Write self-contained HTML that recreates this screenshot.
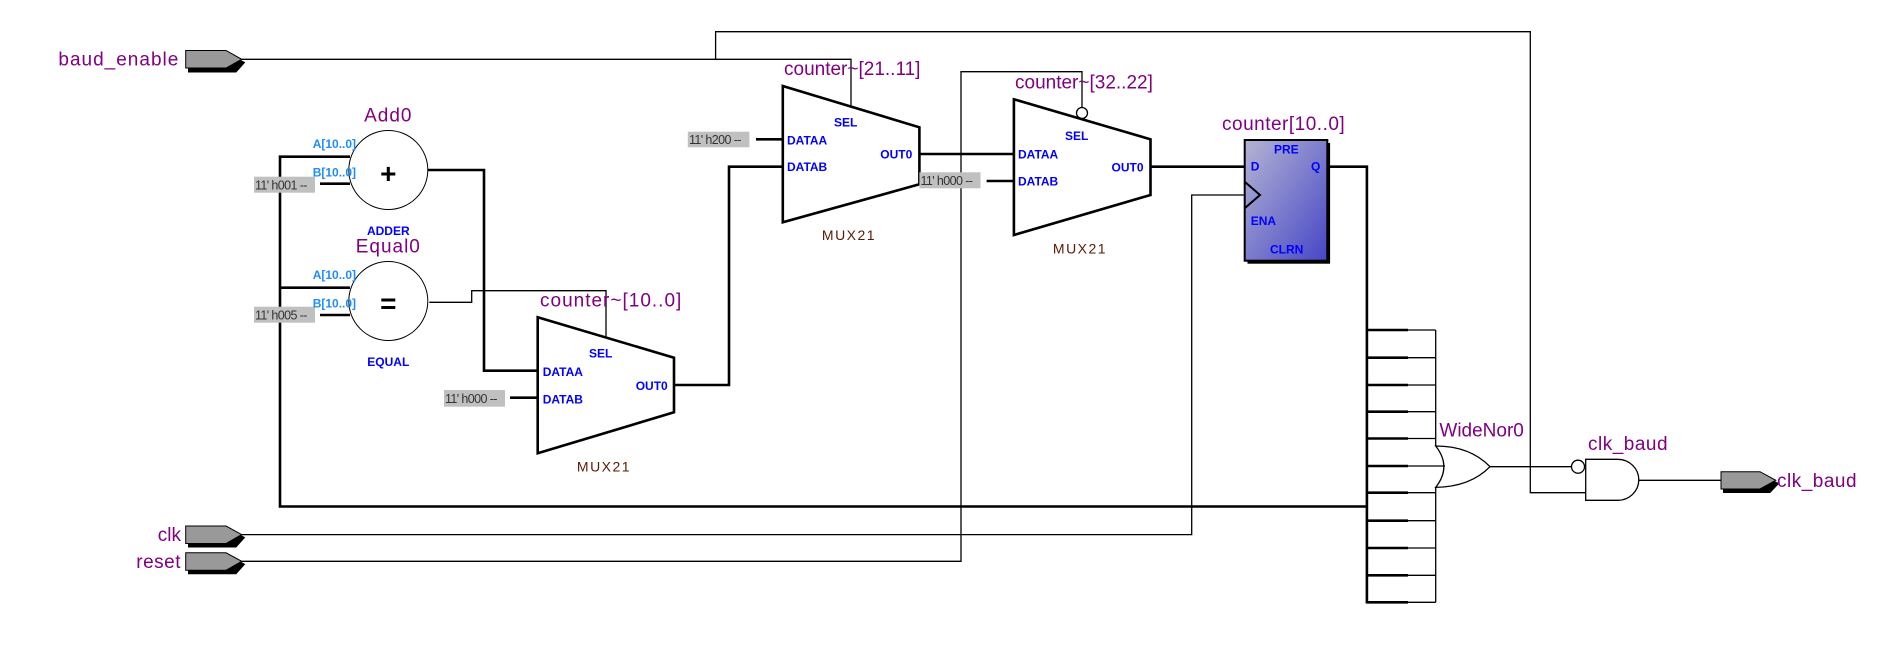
<!DOCTYPE html>
<html><head><meta charset="utf-8"><style>
html,body{margin:0;padding:0;background:#fff;}
svg{display:block;}
.p{font-family:"Liberation Sans",sans-serif;font-size:19px;fill:#800080;}
.b{font-family:"Liberation Sans",sans-serif;font-size:12px;font-weight:bold;fill:#0000ff;}
.lb{font-family:"Liberation Sans",sans-serif;font-size:12px;font-weight:bold;fill:#1e8cff;}
.c{font-family:"Liberation Sans",sans-serif;font-size:12.5px;fill:#333;letter-spacing:-0.6px;}
.m{font-family:"Liberation Sans",sans-serif;font-size:14px;fill:#5a1a00;letter-spacing:1.5px;}
</style></head><body>
<svg width="1883" height="654" viewBox="0 0 1883 654" xmlns="http://www.w3.org/2000/svg">
<defs>
<linearGradient id="g" x1="0" y1="0" x2="1" y2="1">
<stop offset="0" stop-color="#b4b4d4"/><stop offset="1" stop-color="#4646c6"/>
</linearGradient>
</defs>
<g fill="none" stroke="#000">
<g stroke-width="1.3">
<polyline points="241.7,59.3 851,59.3 851,106"/>
<polyline points="715.6,59.3 715.6,31.7 1530.3,31.7 1530.3,492.7 1585.7,492.7"/>
<polyline points="241.7,534.6 1191.7,534.6 1191.7,195 1244.6,195"/>
<polyline points="241.7,561.3 961,561.3 961,71.7 1082,71.7 1082,107"/>
<polyline points="429.3,302.3 471.7,302.3 471.7,290.7 606,290.7 606,337"/>
<polyline points="1435.7,330 1435.7,446"/>
<polyline points="1435.7,487.3 1435.7,602.3"/>
<line x1="1408" y1="330" x2="1435.7" y2="330"/>
<line x1="1408" y1="357.7" x2="1435.7" y2="357.7"/>
<line x1="1408" y1="385" x2="1435.7" y2="385"/>
<line x1="1408" y1="411.7" x2="1435.7" y2="411.7"/>
<line x1="1408" y1="438.5" x2="1435.7" y2="438.5"/>
<line x1="1408" y1="466" x2="1445" y2="466"/>
<line x1="1408" y1="492.7" x2="1435.7" y2="492.7"/>
<line x1="1408" y1="520.7" x2="1435.7" y2="520.7"/>
<line x1="1408" y1="548" x2="1435.7" y2="548"/>
<line x1="1408" y1="575.3" x2="1435.7" y2="575.3"/>
<line x1="1408" y1="602.3" x2="1435.7" y2="602.3"/>
<line x1="1490" y1="466.7" x2="1571" y2="466.7"/>
<line x1="1639" y1="480.3" x2="1721" y2="480.3"/>
<path d="M1435.7,446 Q1452,466.7 1435.7,487.3 Q1470,487 1490,466.7 Q1470,446 1435.7,446 Z"/>
<circle cx="1578" cy="466.7" r="6.5"/>
<path d="M1585.7,459.3 L1617.8,459.3 A21,20.5 0 0 1 1617.8,500.3 L1585.7,500.3 Z"/>
<circle cx="1082" cy="113" r="5.5"/>
<circle cx="388.3" cy="170" r="39.5" stroke-width="1"/>
<circle cx="388.3" cy="301" r="39.5" stroke-width="1"/>
</g>
<g stroke-width="2.6">
<polyline points="350,156.7 280,156.7 280,506.5 1366.9,506.5"/>
<line x1="280" y1="287.7" x2="350" y2="287.7"/>
<line x1="320" y1="183.7" x2="350" y2="183.7"/>
<line x1="320" y1="315" x2="350" y2="315"/>
<polyline points="428,170 484,170 484,370.7 537.7,370.7"/>
<line x1="510" y1="397.7" x2="537.7" y2="397.7"/>
<polyline points="674,385 729,385 729,166.7 782.8,166.7"/>
<line x1="756" y1="139.3" x2="782.8" y2="139.3"/>
<line x1="919.4" y1="154" x2="1014" y2="154"/>
<line x1="986.6" y1="181" x2="1014" y2="181"/>
<line x1="1150.5" y1="166.7" x2="1244.6" y2="166.7"/>
<polyline points="1327,166.7 1366.9,166.7 1366.9,603.5"/>
<line x1="1366.9" y1="330" x2="1408" y2="330"/>
<line x1="1366.9" y1="357.7" x2="1408" y2="357.7"/>
<line x1="1366.9" y1="385" x2="1408" y2="385"/>
<line x1="1366.9" y1="411.7" x2="1408" y2="411.7"/>
<line x1="1366.9" y1="438.5" x2="1408" y2="438.5"/>
<line x1="1366.9" y1="466" x2="1408" y2="466"/>
<line x1="1366.9" y1="492.7" x2="1408" y2="492.7"/>
<line x1="1366.9" y1="520.7" x2="1408" y2="520.7"/>
<line x1="1366.9" y1="548" x2="1408" y2="548"/>
<line x1="1366.9" y1="575.3" x2="1408" y2="575.3"/>
<line x1="1366.9" y1="602.3" x2="1408" y2="602.3"/>
<polygon points="537.7,317.3 674,357.7 674,412.3 537.7,453.3"/>
<polygon points="782.8,86 919.4,127.3 919.4,184.3 782.8,222.3"/>
<polygon points="1013.9,99.3 1150.5,139.3 1150.5,195 1013.9,235"/>
</g>
</g>
<rect x="1247.5" y="143" width="82.6" height="120.7" fill="#000"/>
<rect x="1244.7" y="140" width="82.6" height="120.7" fill="url(#g)" stroke="#000" stroke-width="2"/>
<polyline points="1244.7,181.7 1260,195 1244.7,208.3" fill="none" stroke="#000" stroke-width="2"/>
<g stroke="#000" stroke-width="1">
<polygon points="188.5,53.5 228,53.5 244.5,62.5 236,72 188.5,72" fill="#000"/>
<polygon points="185.7,50.5 226,50.5 241.7,59.3 226,68 185.7,68" fill="#999"/>
<polygon points="188.5,528.5 228,528.5 244.5,537.5 236,547 188.5,547" fill="#000"/>
<polygon points="185.7,526 226,526 241.7,534.6 226,543.5 185.7,543.5" fill="#999"/>
<polygon points="188.5,555.3 228,555.3 244.5,564.3 236,573.8 188.5,573.8" fill="#000"/>
<polygon points="185.7,552.8 226,552.8 241.7,561.3 226,570.3 185.7,570.3" fill="#999"/>
<polygon points="1723.5,475 1762,475 1778.5,483.5 1770,492.5 1723.5,492.5" fill="#000"/>
<polygon points="1721,471.7 1760,471.7 1775.8,480.3 1760,489 1721,489" fill="#999"/>
</g>
<g fill="#c0c0c0">
<rect x="254" y="176.7" width="61" height="16"/>
<rect x="254" y="306.7" width="61" height="16"/>
<rect x="444" y="390" width="61" height="16.7"/>
<rect x="687.8" y="131.7" width="61.6" height="15.6"/>
<rect x="919.4" y="172.3" width="61.1" height="16"/>
</g>
<text class="c" x="255" y="189.5">11' h001 --</text>
<text class="c" x="255" y="319.5">11' h005 --</text>
<text class="c" x="445" y="403">11' h000 --</text>
<text class="c" x="689" y="144">11' h200 --</text>
<text class="c" x="920.5" y="185">11' h000 --</text>
<text class="p" x="179.3" y="65.7" text-anchor="end" letter-spacing="1">baud_enable</text>
<text class="p" x="181" y="541" text-anchor="end">clk</text>
<text class="p" x="181" y="568" text-anchor="end" letter-spacing="0.5">reset</text>
<text class="p" x="1777" y="487" letter-spacing="0.5">clk_baud</text>
<text class="p" x="388.3" y="121.7" text-anchor="middle" letter-spacing="1">Add0</text>
<text class="p" x="388.3" y="252.7" text-anchor="middle" letter-spacing="1">Equal0</text>
<text class="p" x="540" y="306.7" letter-spacing="1">counter~[10..0]</text>
<text class="p" x="784" y="75">counter~[21..11]</text>
<text class="p" x="1015" y="88.3">counter~[32..22]</text>
<text class="p" x="1222" y="130" letter-spacing="0.5">counter[10..0]</text>
<text class="p" x="1439.4" y="436.7">WideNor0</text>
<text class="p" x="1588" y="450" letter-spacing="0.5">clk_baud</text>
<text class="lb" x="312.7" y="148">A[10..0]</text>
<text class="lb" x="312.7" y="176.7">B[10..0]</text>
<text class="lb" x="312.7" y="279">A[10..0]</text>
<text class="lb" x="312.7" y="307.3">B[10..0]</text>
<text x="388.3" y="183" text-anchor="middle" font-family="Liberation Sans,sans-serif" font-size="28" font-weight="bold">+</text>
<text x="388.3" y="313" text-anchor="middle" font-family="Liberation Sans,sans-serif" font-size="28" font-weight="bold">=</text>
<text class="b" x="388.3" y="235" text-anchor="middle">ADDER</text>
<text class="b" x="388.3" y="366" text-anchor="middle">EQUAL</text>
<text class="b" x="589" y="357.7">SEL</text>
<text class="b" x="542.7" y="376">DATAA</text>
<text class="b" x="542.7" y="403.3">DATAB</text>
<text class="b" x="635.7" y="390">OUT0</text>
<text class="b" x="834" y="126.7">SEL</text>
<text class="b" x="787" y="144.3">DATAA</text>
<text class="b" x="787" y="171">DATAB</text>
<text class="b" x="880.3" y="158.3">OUT0</text>
<text class="b" x="1065" y="140">SEL</text>
<text class="b" x="1018" y="158.3">DATAA</text>
<text class="b" x="1018" y="185.7">DATAB</text>
<text class="b" x="1111.5" y="171.7">OUT0</text>
<text class="b" x="1274" y="153.3">PRE</text>
<text class="b" x="1250.7" y="170.7">D</text>
<text class="b" x="1311" y="170.7">Q</text>
<text class="b" x="1250.7" y="225">ENA</text>
<text class="b" x="1270" y="253.3">CLRN</text>
<text class="m" x="604" y="471.7" text-anchor="middle">MUX21</text>
<text class="m" x="849" y="240" text-anchor="middle">MUX21</text>
<text class="m" x="1080" y="253.3" text-anchor="middle">MUX21</text>
</svg>
</body></html>
